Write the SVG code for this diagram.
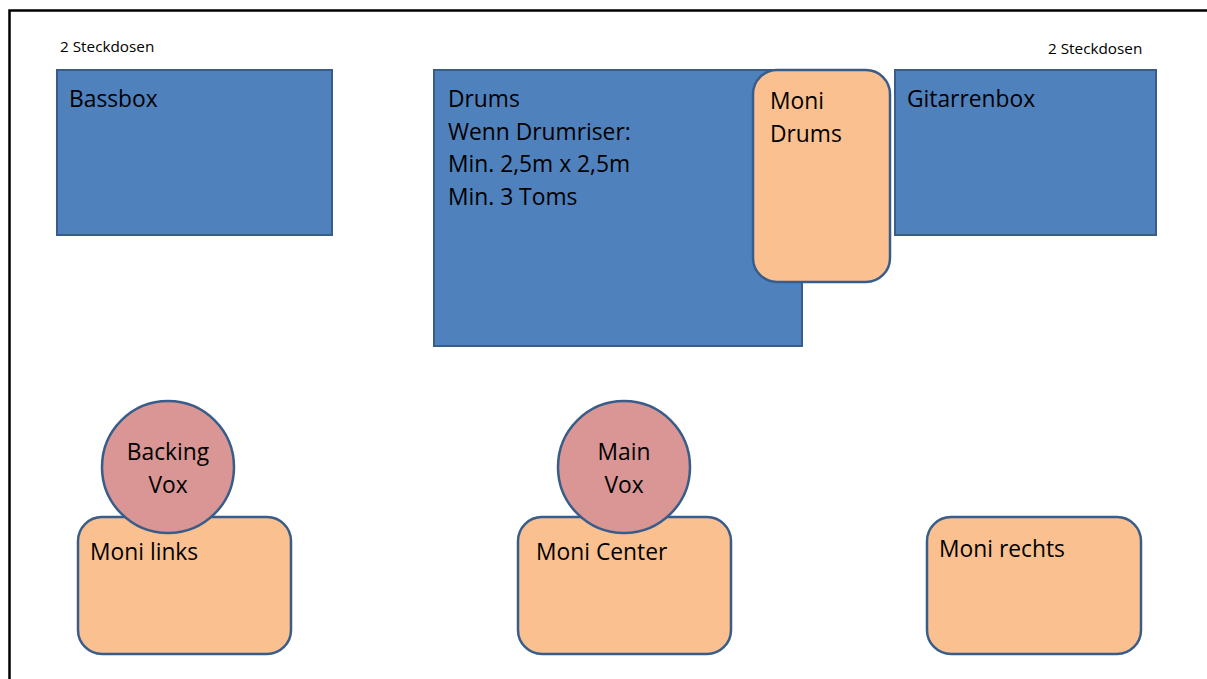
<svg xmlns="http://www.w3.org/2000/svg" width="1207" height="679" viewBox="0 0 1207 679">
<style>
.box{fill:#4F81BD;stroke:#385D8A;stroke-width:2}
.moni{fill:#FAC090;stroke:#385D8A;stroke-width:2.5}
.vox{fill:#D99694;stroke:#385D8A;stroke-width:2.5}
.t{font-family:"Open Sans","Noto Sans",sans-serif;font-size:22.8px;fill:#000}
.s{font-family:"Open Sans","Noto Sans",sans-serif;font-size:15.3px;fill:#000}
.c{text-anchor:middle}
</style>
<rect width="1207" height="679" fill="#fff"/>
<rect x="9.5" y="10.5" width="1220" height="700" fill="none" stroke="#000" stroke-width="2.5"/>
<g id="connectors"></g>
<g id="steckdosen-links"><text class="s" x="60" y="52">2 Steckdosen</text></g>
<g id="steckdosen-rechts"><text class="s" x="1048" y="54">2 Steckdosen</text></g>
<g id="bassbox">
<rect class="box" x="57" y="70" width="275" height="165"/>
<text class="t" x="69" y="107">Bassbox</text>
</g>
<g id="drums">
<rect class="box" x="434" y="70" width="368" height="276"/>
<text class="t" x="448" y="107">Drums</text>
<text class="t" x="448" y="140">Wenn Drumriser:</text>
<text class="t" x="448" y="172">Min. 2,5m x 2,5m</text>
<text class="t" x="448" y="205">Min. 3 Toms</text>
</g>
<g id="moni-drums">
<rect class="moni" x="753" y="70" width="137" height="212" rx="24"/>
<text class="t" x="770" y="109">Moni</text>
<text class="t" x="770" y="142">Drums</text>
</g>
<g id="gitarrenbox">
<rect class="box" x="895" y="70" width="261" height="165"/>
<text class="t" x="907" y="107">Gitarrenbox</text>
</g>
<g id="moni-links">
<rect class="moni" x="78" y="517" width="213" height="137" rx="24"/>
<text class="t" x="90" y="560">Moni links</text>
</g>
<g id="backing-vox">
<ellipse class="vox" cx="168" cy="467" rx="66" ry="66"/>
<text class="t c" x="168" y="460">Backing</text>
<text class="t c" x="168" y="493">Vox</text>
</g>
<g id="moni-center">
<rect class="moni" x="518" y="517" width="213" height="137" rx="24"/>
<text class="t" x="536" y="560">Moni Center</text>
</g>
<g id="main-vox">
<ellipse class="vox" cx="624" cy="467" rx="66" ry="66"/>
<text class="t c" x="624" y="460">Main</text>
<text class="t c" x="624" y="493">Vox</text>
</g>
<g id="moni-rechts">
<rect class="moni" x="927" y="517" width="214" height="137" rx="24"/>
<text class="t" x="939" y="557">Moni rechts</text>
</g>
</svg>
